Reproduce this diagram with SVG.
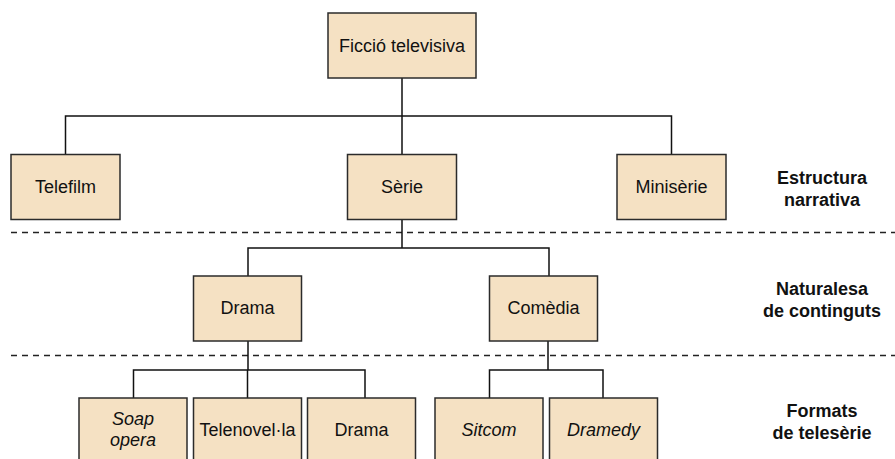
<svg xmlns="http://www.w3.org/2000/svg" width="895" height="459" viewBox="0 0 895 459">
<style>
.box{fill:#F5E1C3;stroke:#2b2b2b;stroke-width:1.5}
.t{font-family:"Liberation Sans",Arial,sans-serif;font-size:18px;fill:#111;text-anchor:middle}
.i{font-style:italic}
.lab{font-family:"Liberation Sans",Arial,sans-serif;font-size:18px;font-weight:bold;fill:#111;text-anchor:middle}
.con{fill:none;stroke:#111;stroke-width:1.5}
.dash{fill:none;stroke:#222;stroke-width:1.5;stroke-dasharray:6 5}
</style>
<rect width="895" height="459" fill="#fff"/>
<g id="separators">
<line class="dash" x1="11" y1="232.5" x2="895" y2="232.5"/>
<line class="dash" x1="11" y1="355.5" x2="895" y2="355.5"/>
</g>
<g id="connectors">
<path class="con" d="M402,78 V116 M65.5,154 V116 H671.5 V154 M402,116 V154"/>
<path class="con" d="M402,219 V248 M248,276 V248 H549 V276"/>
<path class="con" d="M248,341 V370 M133.5,398 V370 H365 V398 M247.5,370 V398"/>
<path class="con" d="M548,341 V370 M489.5,398 V370 H603 V398"/>
</g>
<g id="n-ficcio"><rect class="box" x="328" y="13" width="148" height="65"/><text class="t" x="402" y="51.5">Ficció televisiva</text></g>
<g id="n-telefilm"><rect class="box" x="11" y="154.5" width="109" height="65"/><text class="t" x="65.5" y="193">Telefilm</text></g>
<g id="n-serie"><rect class="box" x="347.5" y="154.5" width="109" height="65"/><text class="t" x="402" y="193">Sèrie</text></g>
<g id="n-miniserie"><rect class="box" x="617" y="154.5" width="109" height="65"/><text class="t" x="671.5" y="193">Minisèrie</text></g>
<g id="n-drama"><rect class="box" x="193.5" y="276" width="108" height="65"/><text class="t" x="247.5" y="314">Drama</text></g>
<g id="n-comedia"><rect class="box" x="489.5" y="276" width="108" height="65"/><text class="t" x="543.5" y="314">Comèdia</text></g>
<g id="n-soap"><rect class="box" x="79" y="398" width="108" height="65"/><text class="t i" x="133" y="424.5">Soap</text><text class="t i" x="133" y="445.5">opera</text></g>
<g id="n-telenovela"><rect class="box" x="193.5" y="398" width="108" height="65"/><text class="t" x="247.5" y="435.5">Telenovel·la</text></g>
<g id="n-drama2"><rect class="box" x="307.5" y="398" width="108" height="65"/><text class="t" x="361.5" y="435.5">Drama</text></g>
<g id="n-sitcom"><rect class="box" x="435" y="398" width="108" height="65"/><text class="t i" x="489" y="435.5">Sitcom</text></g>
<g id="n-dramedy"><rect class="box" x="549.5" y="398" width="108" height="65"/><text class="t i" x="603.5" y="435.5">Dramedy</text></g>
<g id="labels">
<text class="lab" x="822" y="183.5">Estructura</text>
<text class="lab" x="822" y="205.5">narrativa</text>
<text class="lab" x="822" y="295">Naturalesa</text>
<text class="lab" x="822" y="317">de continguts</text>
<text class="lab" x="822" y="416.5">Formats</text>
<text class="lab" x="822" y="438.5">de telesèrie</text>
</g>
</svg>
